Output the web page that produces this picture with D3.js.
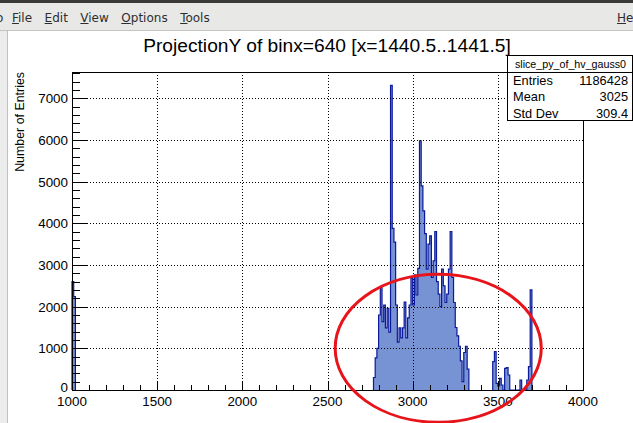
<!DOCTYPE html>
<html>
<head>
<meta charset="utf-8">
<script src="https://cdn.jsdelivr.net/npm/d3@7"></script>
<style>
  body { margin: 0; background: #fff; overflow: hidden; }
  svg text { font-family: "Liberation Sans", Arial, Helvetica, sans-serif; }
</style>
</head>
<body>
<svg id="chart" width="633" height="423"></svg>
<script>
// ---- data ----
const binWidth = 10;
const lowStart = 1000;
const lowCounts = [2600, 2240];
const mainStart = 2770;
const mainCounts = [
  300, 770, 1000, 1800, 2480, 1640, 2040, 1490, 1960, 1390,
  7310, 3880, 3550, 2040, 1150, 1490, 1250, 1490, 2110, 1250,
  1730, 2040, 2690, 2040, 2760, 2280, 2920, 5980, 4900, 4300,
  3750, 2900, 3500, 3700, 2700, 3100, 3800, 2600, 2300, 2000,
  2900, 2500, 2100, 2300, 2900, 3800, 2700, 2100, 1500, 1300,
  1050, 700, 200, 900, 1050, 500
];
const tailStart = 3470;
const tailCounts = [
  680, 920, 160, 100, 280, 120, 0, 520, 540, 360,
  0, 0, 0, 0, 0, 0, 240, 0, 0, 0,
  240, 560, 2400
];
const xTicks = [1000, 1500, 2000, 2500, 3000, 3500, 4000];
const yTicks = [0, 1000, 2000, 3000, 4000, 5000, 6000, 7000];
const titleText = "ProjectionY of binx=640 [x=1440.5..1441.5]";
const yTitle = "Number of Entries";
const statsName = "slice_py_of_hv_gauss0";
const statsLabels = ["Entries", "Mean", "Std Dev"];
const statsValues = ["1186428", "3025", "309.4"];
const menuItems = ["File", "Edit", "View", "Options", "Tools"];
// red hand-drawn ellipse, in data units: centre x, centre y, radius x, radius y
const markCentre = [3150, 1000];
const markRadius = [605, 1775];

const svg = d3.select('#chart');
const W = 633, H = 423;

// ---- window chrome ----
svg.append('rect').attr('width', W).attr('height', H).attr('fill', '#ffffff');
svg.append('rect').attr('x', 0).attr('y', 0).attr('width', W).attr('height', 31).attr('fill', '#e8e8e7');
svg.append('rect').attr('x', 0).attr('y', 0).attr('width', W).attr('height', 3).attr('fill', '#3a3a3a');
svg.append('line').attr('x1', 0).attr('x2', W).attr('y1', 30.5).attr('y2', 30.5).attr('stroke', '#c4c4c4');
svg.append('rect').attr('x', 0).attr('y', 31).attr('width', 7).attr('height', H - 31).attr('fill', '#ececec');
svg.append('line').attr('x1', 7.5).attr('x2', 7.5).attr('y1', 31).attr('y2', H).attr('stroke', '#c0c0c0');

const menu = svg.append('g').attr('font-size', 12).attr('fill', '#2e2e2e');
// tail of the previous menu entry, cut by the window edge as in the screenshot
menu.append('text').attr('x', -4).attr('y', 21.5)
  .style('font-family', '"DejaVu Sans", sans-serif').text('o');
let mx = 12;
menuItems.concat(['He']).forEach((label, i) => {
  const isHelp = i === menuItems.length;
  const t = menu.append('text')
    .attr('x', isHelp ? 617 : mx).attr('y', 21.5)
    .style('font-family', '"DejaVu Sans", sans-serif')
    .text(label);
  const w = t.node().getComputedTextLength();
  // underline the mnemonic letter
  const first = menu.append('text').attr('visibility', 'hidden')
    .style('font-family', '"DejaVu Sans", sans-serif').text(label[0]);
  const fw = first.node().getComputedTextLength();
  first.remove();
  const ux = isHelp ? 617 : mx;
  menu.append('line').attr('x1', ux).attr('x2', ux + fw)
    .attr('y1', 23.5).attr('y2', 23.5).attr('stroke', '#2e2e2e').attr('stroke-width', 1);
  if (!isHelp) mx += w + 12.5;
});

// ---- plot frame ----
const frame = { left: 72, right: 583, top: 72, bottom: 390 };
const x = d3.scaleLinear().domain([1000, 4000]).range([frame.left, frame.right]);
const y = d3.scaleLinear().domain([0, 7630]).range([frame.bottom, frame.top]);

// ---- histogram ----
function segment(start, counts) {
  const pts = [[start, 0]];
  counts.forEach((c, i) => {
    pts.push([start + i * binWidth, c]);
    pts.push([start + (i + 1) * binWidth, c]);
  });
  pts.push([start + counts.length * binWidth, 0]);
  return pts;
}
const segments = [
  segment(lowStart, lowCounts),
  segment(mainStart, mainCounts),
  segment(tailStart, tailCounts)
];
const line = d3.line().x(d => x(d[0])).y(d => y(d[1]));
const hist = svg.append('g');
segments.forEach(pts => {
  hist.append('path').attr('d', line(pts) + 'Z')
    .attr('fill', '#7893d3').attr('stroke', 'none');
  hist.append('path').attr('d', line(pts))
    .attr('fill', 'none').attr('stroke', '#0b1a9a')
    .attr('stroke-width', 1.2).attr('stroke-linejoin', 'miter');
});

// ---- grid ----
const grid = svg.append('g').attr('stroke', '#000').attr('stroke-width', 1)
  .attr('stroke-dasharray', '1,2').attr('shape-rendering', 'crispEdges');
xTicks.filter(v => v > 1000 && v < 4000).forEach(v => {
  grid.append('line').attr('x1', Math.round(x(v)) + 0.5).attr('x2', Math.round(x(v)) + 0.5)
    .attr('y1', frame.top).attr('y2', frame.bottom);
});
yTicks.filter(v => v > 0).forEach(v => {
  grid.append('line').attr('y1', Math.round(y(v)) + 0.5).attr('y2', Math.round(y(v)) + 0.5)
    .attr('x1', frame.left).attr('x2', frame.right);
});

// ---- axes (ROOT style ticks inside the frame) ----
const axes = svg.append('g').attr('stroke', '#000').attr('shape-rendering', 'crispEdges');
axes.append('rect')
  .attr('x', frame.left + 0.5).attr('y', frame.top + 0.5)
  .attr('width', frame.right - frame.left).attr('height', frame.bottom - frame.top)
  .attr('fill', 'none');

const xMinor = d3.range(1000, 4001, 100);
xMinor.forEach(v => {
  const len = v % 500 === 0 ? 9.5 : 4.8;
  const px = Math.round(x(v)) + 0.5;
  axes.append('line').attr('x1', px).attr('x2', px)
    .attr('y1', frame.bottom).attr('y2', frame.bottom - len);
});
const yMinor = d3.range(0, 7601, 200);
yMinor.forEach(v => {
  const len = v % 1000 === 0 ? 15 : 7.5;
  const py = Math.round(y(v)) + 0.5;
  axes.append('line').attr('y1', py).attr('y2', py)
    .attr('x1', frame.left).attr('x2', frame.left + len);
});

const labels = svg.append('g').attr('font-size', 13.4).attr('fill', '#000');
xTicks.forEach(v => {
  labels.append('text').attr('x', x(v)).attr('y', 406)
    .attr('text-anchor', 'middle').text(d3.format('d')(v));
});
yTicks.forEach(v => {
  labels.append('text').attr('x', 68).attr('y', y(v) + (v === 0 ? 1.5 : 5))
    .attr('text-anchor', 'end').text(d3.format('d')(v));
});

svg.append('text')
  .attr('transform', `translate(24,${frame.top}) rotate(-90)`)
  .attr('text-anchor', 'end').attr('font-size', 12.4).attr('fill', '#000')
  .text(yTitle);

// ---- title ----
svg.append('text').attr('x', 327).attr('y', 52)
  .attr('text-anchor', 'middle').attr('font-size', 19.2).attr('fill', '#000')
  .text(titleText);

// ---- stats box ----
const box = { left: 507, right: 632, top: 55, sep: 72, bottom: 120 };
const sb = svg.append('g');
sb.append('rect').attr('x', box.left + 0.5).attr('y', box.top + 0.5)
  .attr('width', box.right - box.left).attr('height', box.bottom - box.top)
  .attr('fill', '#fff').attr('stroke', '#000').attr('shape-rendering', 'crispEdges');
sb.append('line').attr('x1', box.left).attr('x2', box.right + 1)
  .attr('y1', box.sep + 0.5).attr('y2', box.sep + 0.5)
  .attr('stroke', '#000').attr('shape-rendering', 'crispEdges');
sb.append('text').attr('x', (box.left + box.right) / 2 + 1).attr('y', 67.5)
  .attr('text-anchor', 'middle').attr('font-size', 10.7).text(statsName);
const rowY = d3.scalePoint().domain(statsLabels).range([85, 117.5]);
statsLabels.forEach((lab, i) => {
  sb.append('text').attr('x', box.left + 6).attr('y', rowY(lab))
    .attr('font-size', 12.8).text(lab);
  sb.append('text').attr('x', box.right - 4).attr('y', rowY(lab))
    .attr('text-anchor', 'end').attr('font-size', 12.8).text(statsValues[i]);
});

// ---- red annotation ellipse ----
svg.append('ellipse')
  .attr('cx', x(markCentre[0])).attr('cy', y(markCentre[1]))
  .attr('rx', x(markCentre[0] + markRadius[0]) - x(markCentre[0]))
  .attr('ry', y(markCentre[1]) - y(markCentre[1] + markRadius[1]))
  .attr('fill', 'none').attr('stroke', '#e8141b').attr('stroke-width', 3);
</script>
</body>
</html>
